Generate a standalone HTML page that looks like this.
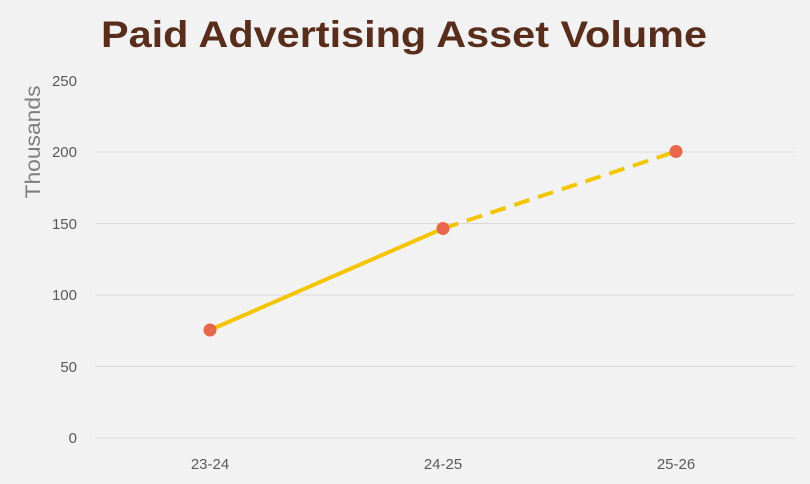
<!DOCTYPE html>
<html><head><style>body{margin:0;background:#f2f2f2}</style></head>
<body>
<svg width="810" height="484" xmlns="http://www.w3.org/2000/svg" style="display:block">
<rect width="810" height="484" fill="#f2f2f2"/>
<text x="404" y="47" text-anchor="middle" font-family="Liberation Sans, sans-serif" font-weight="bold" font-size="37" fill="#582d1b" textLength="606" lengthAdjust="spacingAndGlyphs">Paid Advertising Asset Volume</text>
<g stroke="#d9d9d9" stroke-width="1">
<line x1="95" x2="795" y1="152" y2="152"/>
<line x1="95" x2="795" y1="223.5" y2="223.5"/>
<line x1="95" x2="795" y1="295" y2="295"/>
<line x1="95" x2="795" y1="366.5" y2="366.5"/>
<line x1="95" x2="795" y1="438" y2="438"/>
</g>
<g font-family="Liberation Sans, sans-serif" font-size="15" fill="#595959" text-anchor="end">
<text x="77" y="86">250</text>
<text x="77" y="157">200</text>
<text x="77" y="229">150</text>
<text x="77" y="300">100</text>
<text x="77" y="372">50</text>
<text x="77" y="443">0</text>
</g>
<g font-family="Liberation Sans, sans-serif" font-size="15" fill="#595959" text-anchor="middle">
<text x="210" y="469">23-24</text>
<text x="443" y="469">24-25</text>
<text x="676" y="469">25-26</text>
</g>
<text transform="translate(40,142) rotate(-90)" text-anchor="middle" font-family="Liberation Sans, sans-serif" font-size="21" fill="#7f7f7f" textLength="113" lengthAdjust="spacingAndGlyphs">Thousands</text>
<line x1="210" y1="330" x2="443" y2="228.5" stroke="#f2c500" stroke-width="4"/>
<line x1="443" y1="228.5" x2="676" y2="151.5" stroke="#f2c500" stroke-width="4" stroke-dasharray="16,9"/>
<circle cx="210" cy="330" r="6.5" fill="#e8674a"/>
<circle cx="443" cy="228.5" r="6.5" fill="#e8674a"/>
<circle cx="676" cy="151.5" r="6.5" fill="#e8674a"/>
</svg>
</body></html>
